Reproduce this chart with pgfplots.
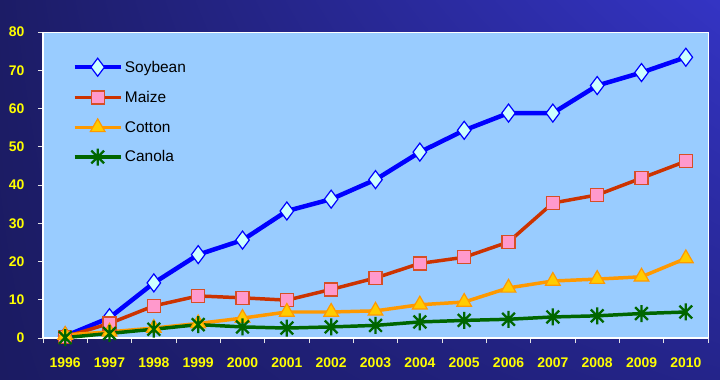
\documentclass[border=0pt]{standalone}
\usepackage{pgfplots}
\pgfplotsset{compat=1.18}
\usepackage{fontspec}
\setmainfont{Liberation Sans}
\usetikzlibrary{plotmarks,shadings}
\pgfdeclareplotmark{xstar}{%
  \pgfpathmoveto{\pgfqpoint{0pt}{\pgfplotmarksize}}%
  \pgfpathlineto{\pgfqpoint{0pt}{-\pgfplotmarksize}}%
  \pgfpathmoveto{\pgfqpoint{-0.75\pgfplotmarksize}{0.75\pgfplotmarksize}}%
  \pgfpathlineto{\pgfqpoint{0.75\pgfplotmarksize}{-0.75\pgfplotmarksize}}%
  \pgfpathmoveto{\pgfqpoint{-0.75\pgfplotmarksize}{-0.75\pgfplotmarksize}}%
  \pgfpathlineto{\pgfqpoint{0.75\pgfplotmarksize}{0.75\pgfplotmarksize}}%
  \pgfusepathqstroke}
\definecolor{bgA}{HTML}{1C1C66}
\definecolor{bgB}{HTML}{3434C4}
\definecolor{bgC}{HTML}{1B1B62}
\definecolor{bgD}{HTML}{24248A}
\definecolor{plotbg}{HTML}{99CCFF}
\definecolor{soy}{HTML}{0000FF}
\definecolor{soyfill}{HTML}{CCFFFF}
\definecolor{maize}{HTML}{CC3300}
\definecolor{maizefill}{HTML}{FF99CC}
\definecolor{cotton}{HTML}{FF9900}
\definecolor{cottonfill}{HTML}{FFCC00}
\definecolor{canola}{HTML}{006600}
\definecolor{ticky}{HTML}{FFFF00}
\begin{document}
\begin{tikzpicture}[x=1bp,y=1bp]
\shade[upper left=bgA, upper right=bgB, lower left=bgC, lower right=bgD] (0,0) rectangle (720,379);
\useasboundingbox (0,0) rectangle (720,379);
\begin{axis}[
  at={(43bp,41bp)}, anchor=south west,
  scale only axis, width=665bp, height=306bp,
  xmin=-0.5, xmax=14.5, ymin=0, ymax=80,
  axis background/.style={fill=plotbg},
  axis line style={draw=white, line width=1.5pt},
  axis x line*=bottom, axis y line*=left,
  xtick={0,...,14},
  xticklabels={1996,1997,1998,1999,2000,2001,2002,2003,2004,2005,2006,2007,2008,2009,2010},
  major x tick style={draw=none},
  minor xtick={-0.5,0.5,...,14.5},
  minor x tick style={draw=white!80!gray, line width=0.8pt},
  minor tick length=5bp,
  ytick={0,10,...,80},
  major y tick style={draw=white!80!gray, line width=0.8pt},
  major tick length=5bp,
  tick align=outside,
  ticklabel style={font=\fontsize{14}{16}\selectfont\bfseries, text=ticky},
  /pgf/number format/assume math mode=true,
  xticklabel style={yshift=-11bp},
  yticklabel style={xshift=-10bp},
  clip=false,
  legend style={at={(0.044,0.915)}, anchor=north west, draw=none, fill=none,
    font=\fontsize{15.5}{18}\selectfont, row sep=13bp, inner sep=0pt},
  legend cell align=left,
  legend image code/.code={
    \draw[#1, mark repeat=2, mark phase=2] plot coordinates {(0bp,0bp) (23bp,0bp) (46bp,0bp)};
  },
]
\draw[white, line width=0.8pt] (axis cs:-0.5,80) -- (axis cs:14.5,80) -- (axis cs:14.5,0);
\addplot[soy, line width=4.5pt, mark=diamond*, mark size=9bp,
  mark options={fill=soyfill, draw=soy, line width=1.2pt}] coordinates {
(0,0.5) (1,5.3) (2,14.4) (3,21.8) (4,25.6) (5,33.2) (6,36.3) (7,41.4) (8,48.6) (9,54.3) (10,58.8) (11,58.8) (12,66.0) (13,69.4) (14,73.4)};
\addlegendentry{Soybean}
\addplot[maize, line width=3.5pt, mark=square*, mark size=6.5bp,
  mark options={fill=maizefill, draw=maize!80!pink, line width=1.2pt}] coordinates {
(0,0.3) (1,3.8) (2,8.4) (3,11.0) (4,10.5) (5,9.9) (6,12.7) (7,15.7) (8,19.5) (9,21.1) (10,25.1) (11,35.3) (12,37.4) (13,41.8) (14,46.2)};
\addlegendentry{Maize}
\addplot[cotton, line width=3.5pt, mark=triangle*, mark size=8.5bp,
  mark options={fill=cottonfill, draw=cotton, line width=1.2pt}] coordinates {
(0,0.8) (1,1.6) (2,2.6) (3,3.8) (4,5.2) (5,6.8) (6,6.8) (7,7.1) (8,8.7) (9,9.4) (10,13.1) (11,14.9) (12,15.4) (13,16.0) (14,20.8)};
\addlegendentry{Cotton}
\addplot[canola, line width=3.5pt, mark=xstar, mark size=8.5bp,
  mark options={draw=canola, line width=2.3pt}] coordinates {
(0,0.1) (1,1.2) (2,2.3) (3,3.5) (4,2.9) (5,2.6) (6,2.9) (7,3.3) (8,4.2) (9,4.6) (10,4.9) (11,5.5) (12,5.8) (13,6.4) (14,6.8)};
\addlegendentry{Canola}
\end{axis}
\end{tikzpicture}
\end{document}
